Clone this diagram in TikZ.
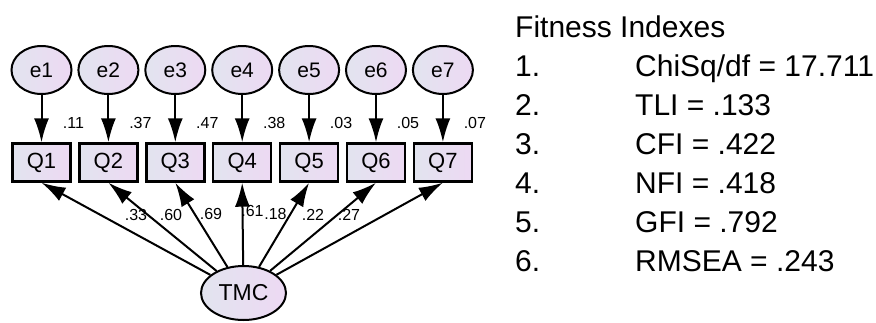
\documentclass[tikz,border=0pt]{standalone}
\usepackage{fontspec}
\setmainfont{Liberation Sans}
\usetikzlibrary{arrows.meta,shapes.geometric}
\definecolor{fillL}{HTML}{E2E4EF}
\definecolor{fillR}{HTML}{EDD9F3}
\begin{document}
\begin{tikzpicture}[x=1pt,y=-1pt,
  lat/.style={ellipse, draw, line width=2pt, left color=fillL, right color=fillR,
    minimum width=60pt, minimum height=48pt, inner sep=0pt, font=\fontsize{21}{21}\selectfont},
  obs/.style={rectangle, draw, line width=2.4pt, left color=fillL, right color=fillR,
    minimum width=58pt, minimum height=38pt, inner sep=0pt, font=\fontsize{22}{22}\selectfont},
  arr/.style={line width=2pt, -{Latex[length=24pt,width=15pt]}},
  est/.style={font=\fontsize{16}{16}\selectfont, inner sep=0pt},
  fitx/.style={anchor=base west, inner sep=0pt, font=\fontsize{30}{30}\selectfont}]
\useasboundingbox (0,0) rectangle (876,322);
% latent factor
\node[lat, minimum width=85pt, minimum height=54pt, font=\fontsize{23}{23}\selectfont] (tmc) at (243.5,293) {TMC};
% indicators and errors
\foreach \i/\x/\v in {1/41.5/.11,2/108.4/.37,3/175.3/.47,4/242.2/.38,5/309.1/.03,6/376/.05,7/442.9/.07}{
  \node[lat] (e\i) at (\x,70) {e\i};
  \node[obs] (q\i) at (\x,162.5) {Q\i};
  \draw[arr] (e\i) -- (q\i);
  \node[est] (v\i) at (\x+32,123) {\v};
}
% loadings
\node[est] (l1) at (136,215) {.33};
\node[est] (l2) at (171,215) {.60};
\node[est] (l3) at (211,214) {.69};
\node[est] (l4) at (252.5,211) {.61};
\node[est] (l5) at (275.5,214) {.18};
\node[est] (l6) at (313,215) {.22};
\node[est] (l7) at (349,215) {.27};
\foreach \i in {1,...,7}{
  \draw[arr] (tmc) -- (q\i.south);
}
% fit indexes
\node[fitx] (title) at (515,37) {Fitness Indexes};
\foreach \n/\t [count=\k] in {1./{ChiSq/df = 17.711},2./{TLI = .133},3./{CFI = .422},4./{NFI = .418},5./{GFI = .792},6./{RMSEA = .243}}{
  \node[fitx] (n\k) at (515,37+39*\k) {\n};
  \node[fitx] (t\k) at (635,37+39*\k) {\t};
}
\end{tikzpicture}
\end{document}
